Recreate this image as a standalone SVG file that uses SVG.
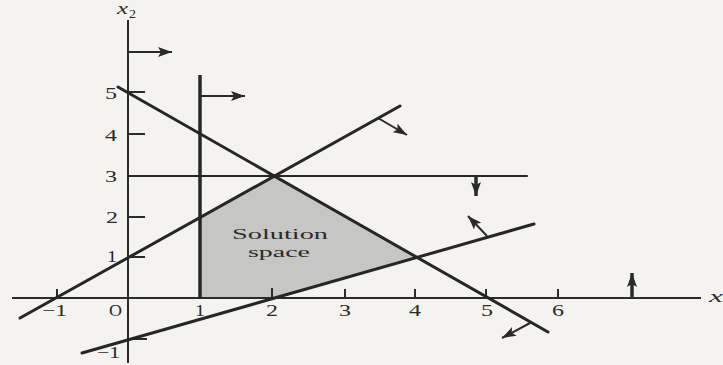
<svg xmlns="http://www.w3.org/2000/svg" width="723" height="365" viewBox="0 0 723 365">
  <defs>
    <marker id="ah" markerUnits="userSpaceOnUse" markerWidth="16" markerHeight="10" refX="14" refY="5" orient="auto">
      <path d="M0,0 L14,5 L0,10 L3,5 z" fill="#2a2a2a"/>
    </marker>
  </defs>
  <style>
    .ax { stroke:#2b2b2b; stroke-width:2; fill:none; }
    .ln { stroke:#262626; stroke-width:3; fill:none; stroke-linecap:round; }
    .tk { stroke:#2b2b2b; stroke-width:2; }
    .ar { stroke:#2a2a2a; stroke-width:2; fill:none; marker-end:url(#ah); }
    .t { font-family:"Liberation Serif", "Times New Roman", serif; font-size:17px; fill:#2a2a2a; }
    .it { font-family:"Liberation Serif", "Times New Roman", serif; font-style:italic; fill:#2a2a2a; }
  </style>
  <rect x="0" y="0" width="723" height="365" fill="#f4f3ef"/>

  <g id="solution-space">
    <polygon points="200,298 200,217 273,176 415,257 273,298" fill="#c6c6c4"/>
    <text class="t" x="232" y="239" style="font-size:15px" textLength="96" lengthAdjust="spacingAndGlyphs">Solution</text>
    <text class="t" x="248" y="257" style="font-size:15px" textLength="62" lengthAdjust="spacingAndGlyphs">space</text>
  </g>

  <g id="axes">
    <line class="ax" x1="12" y1="298" x2="701" y2="298"/>
    <line class="ax" x1="128" y1="20" x2="128" y2="363"/>
    <g id="ticks">
      <line class="tk" x1="128" y1="92" x2="145" y2="92"/>
      <line class="tk" x1="128" y1="134" x2="145" y2="134"/>
      <line class="tk" x1="128" y1="217" x2="145" y2="217"/>
      <line class="tk" x1="128" y1="257" x2="145" y2="257"/>
      <line class="tk" x1="128" y1="339" x2="147" y2="339"/>
      <line class="tk" x1="57" y1="289" x2="57" y2="298"/>
      <line class="tk" x1="272" y1="288" x2="272" y2="298"/>
      <line class="tk" x1="345" y1="289" x2="345" y2="298"/>
      <line class="tk" x1="415" y1="289" x2="415" y2="298"/>
      <line class="tk" x1="486" y1="289" x2="486" y2="298"/>
      <line class="tk" x1="558" y1="289" x2="558" y2="298"/>
    </g>
    <g id="axis-labels">
      <text class="it" x="117" y="14" style="font-size:16px" textLength="11" lengthAdjust="spacingAndGlyphs">x</text>
      <text class="t" x="129" y="18" style="font-size:12px" textLength="7" lengthAdjust="spacingAndGlyphs">2</text>
      <text class="it" x="709" y="302" style="font-size:17px" textLength="14" lengthAdjust="spacingAndGlyphs">x</text>
      <text class="t" x="105" y="99" textLength="12" lengthAdjust="spacingAndGlyphs">5</text>
      <text class="t" x="105" y="141" textLength="12" lengthAdjust="spacingAndGlyphs">4</text>
      <text class="t" x="105" y="182" textLength="12" lengthAdjust="spacingAndGlyphs">3</text>
      <text class="t" x="106" y="223" textLength="12" lengthAdjust="spacingAndGlyphs">2</text>
      <text class="t" x="107" y="262" textLength="10" lengthAdjust="spacingAndGlyphs">1</text>
      <text class="t" x="97" y="358" textLength="23" lengthAdjust="spacingAndGlyphs">−1</text>
      <text class="t" x="42" y="316" textLength="25" lengthAdjust="spacingAndGlyphs">−1</text>
      <text class="t" x="109" y="316" textLength="13" lengthAdjust="spacingAndGlyphs">O</text>
      <text class="t" x="195" y="316" textLength="10" lengthAdjust="spacingAndGlyphs">1</text>
      <text class="t" x="266" y="316" textLength="12" lengthAdjust="spacingAndGlyphs">2</text>
      <text class="t" x="339" y="316" textLength="12" lengthAdjust="spacingAndGlyphs">3</text>
      <text class="t" x="409" y="316" textLength="12" lengthAdjust="spacingAndGlyphs">4</text>
      <text class="t" x="481" y="316" textLength="12" lengthAdjust="spacingAndGlyphs">5</text>
      <text class="t" x="552" y="316" textLength="12" lengthAdjust="spacingAndGlyphs">6</text>
    </g>
  </g>

  <g id="constraints">
    <line id="c-x1-ge-1" class="ln" x1="200" y1="75" x2="200" y2="298" style="stroke-width:3.5;stroke-linecap:butt"/>
    <line id="c-x2-le-3" class="ln" x1="128" y1="176" x2="527" y2="176" style="stroke-width:2.2"/>
    <line id="c-sum-le-5" class="ln" x1="118" y1="87" x2="548" y2="332"/>
    <line id="c-diff-le-1" class="ln" x1="20" y1="318" x2="400" y2="106"/>
    <line id="c-half-ge" class="ln" x1="82" y1="353" x2="534" y2="224"/>
  </g>

  <g id="direction-arrows">
    <line class="ar" x1="128" y1="52" x2="172" y2="52"/>
    <line class="ar" x1="200" y1="96" x2="245" y2="96"/>
    <line class="ar" x1="378" y1="118" x2="407" y2="135"/>
    <line class="ar" x1="476" y1="176" x2="476" y2="196" style="stroke-width:3.5"/>
    <line class="ar" x1="487" y1="236" x2="468" y2="216"/>
    <line class="ar" x1="530" y1="323" x2="502" y2="338"/>
    <line class="ar" x1="632" y1="298" x2="632" y2="273" style="stroke-width:3.5"/>
  </g>
</svg>
